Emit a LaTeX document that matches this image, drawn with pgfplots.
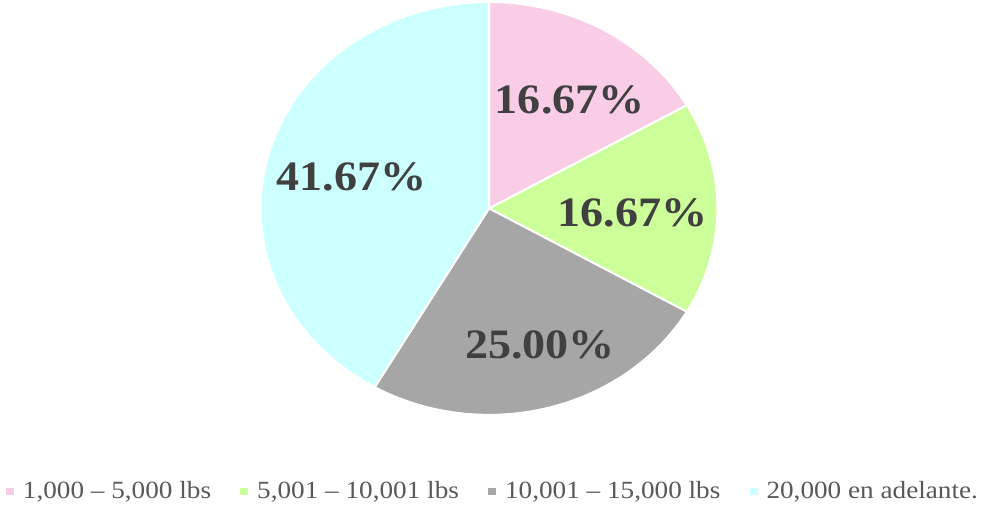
\documentclass[border=0pt]{standalone}
\usepackage{fontspec}
\setmainfont{Liberation Serif}[FakeStretch=1.1]
\usepackage{pgfplots}
\usepackage{pgfplotstable}
\pgfplotsset{compat=1.18}

\definecolor{pinkc}{HTML}{FACDE6}
\definecolor{greenc}{HTML}{CCFF99}
\definecolor{greyc}{HTML}{A6A6A6}
\definecolor{cyanc}{HTML}{CCFFFF}
\definecolor{labelc}{HTML}{404040}
\definecolor{legc}{HTML}{595959}

% share of each weight class, percent
\pgfplotstableread{
value
16.67
16.67
25.00
41.67
}\piedata

\pgfplotstablegetelem{0}{value}\of\piedata \let\vA\pgfplotsretval
\pgfplotstablegetelem{1}{value}\of\piedata \let\vB\pgfplotsretval
\pgfplotstablegetelem{2}{value}\of\piedata \let\vC\pgfplotsretval
\pgfplotstablegetelem{3}{value}\of\piedata \let\vD\pgfplotsretval
% angles, clockwise from 12 o'clock
\pgfmathsetmacro\aA{90}
\pgfmathsetmacro\aB{\aA-3.6*\vA}
\pgfmathsetmacro\aC{\aB-3.6*\vB}
\pgfmathsetmacro\aD{\aC-3.6*\vC}
\pgfmathsetmacro\aE{\aD-3.6*\vD}

\begin{document}
\begin{tikzpicture}
\begin{axis}[
    width=494pt, height=253pt,
    scale only axis,
    hide axis,
    clip=false,
    xmin=0, xmax=988, ymin=0, ymax=506,
    legend columns=4,
    legend style={draw=none, fill=none, at={(0.5,0.026)}, anchor=center,
        font=\fontsize{12.4}{14}\selectfont, text=legc,
        /tikz/every even column/.append style={column sep=12.6pt}},
    legend image code/.code={\fill[draw=none] (0pt,-2pt) rectangle (4pt,2pt); \path (6pt,0pt);},
    pie/.style={draw=white, line width=1pt, samples=80, variable=\t},
]
\path (rel axis cs:0,0) rectangle (rel axis cs:1,1);
\addplot[pie, fill=pinkc, domain=\aB:\aA] ({489+229*cos(\t)},{297+207*sin(\t)}) -- (axis cs:489,297) -- cycle;
\addlegendentry{1,000 -- 5,000 lbs}
\addplot[pie, fill=greenc, domain=\aC:\aB] ({489+229*cos(\t)},{297+207*sin(\t)}) -- (axis cs:489,297) -- cycle;
\addlegendentry{5,001 -- 10,001 lbs}
\addplot[pie, fill=greyc, domain=\aD:\aC] ({489+229*cos(\t)},{297+207*sin(\t)}) -- (axis cs:489,297) -- cycle;
\addlegendentry{10,001 -- 15,000 lbs}
\addplot[pie, fill=cyanc, domain=\aE:\aD] ({489+229*cos(\t)},{297+207*sin(\t)}) -- (axis cs:489,297) -- cycle;
\addlegendentry{20,000 en adelante.}

\begin{scope}[every node/.style={font=\bfseries\fontsize{21}{21}\selectfont, text=labelc}]
\node at (axis cs:570,406) {\vA\%};
\node at (axis cs:633,293) {\vB\%};
\node at (axis cs:540,160) {25.00\%};
\node at (axis cs:351,329) {\vD\%};
\end{scope}
\end{axis}
\end{tikzpicture}
\end{document}
